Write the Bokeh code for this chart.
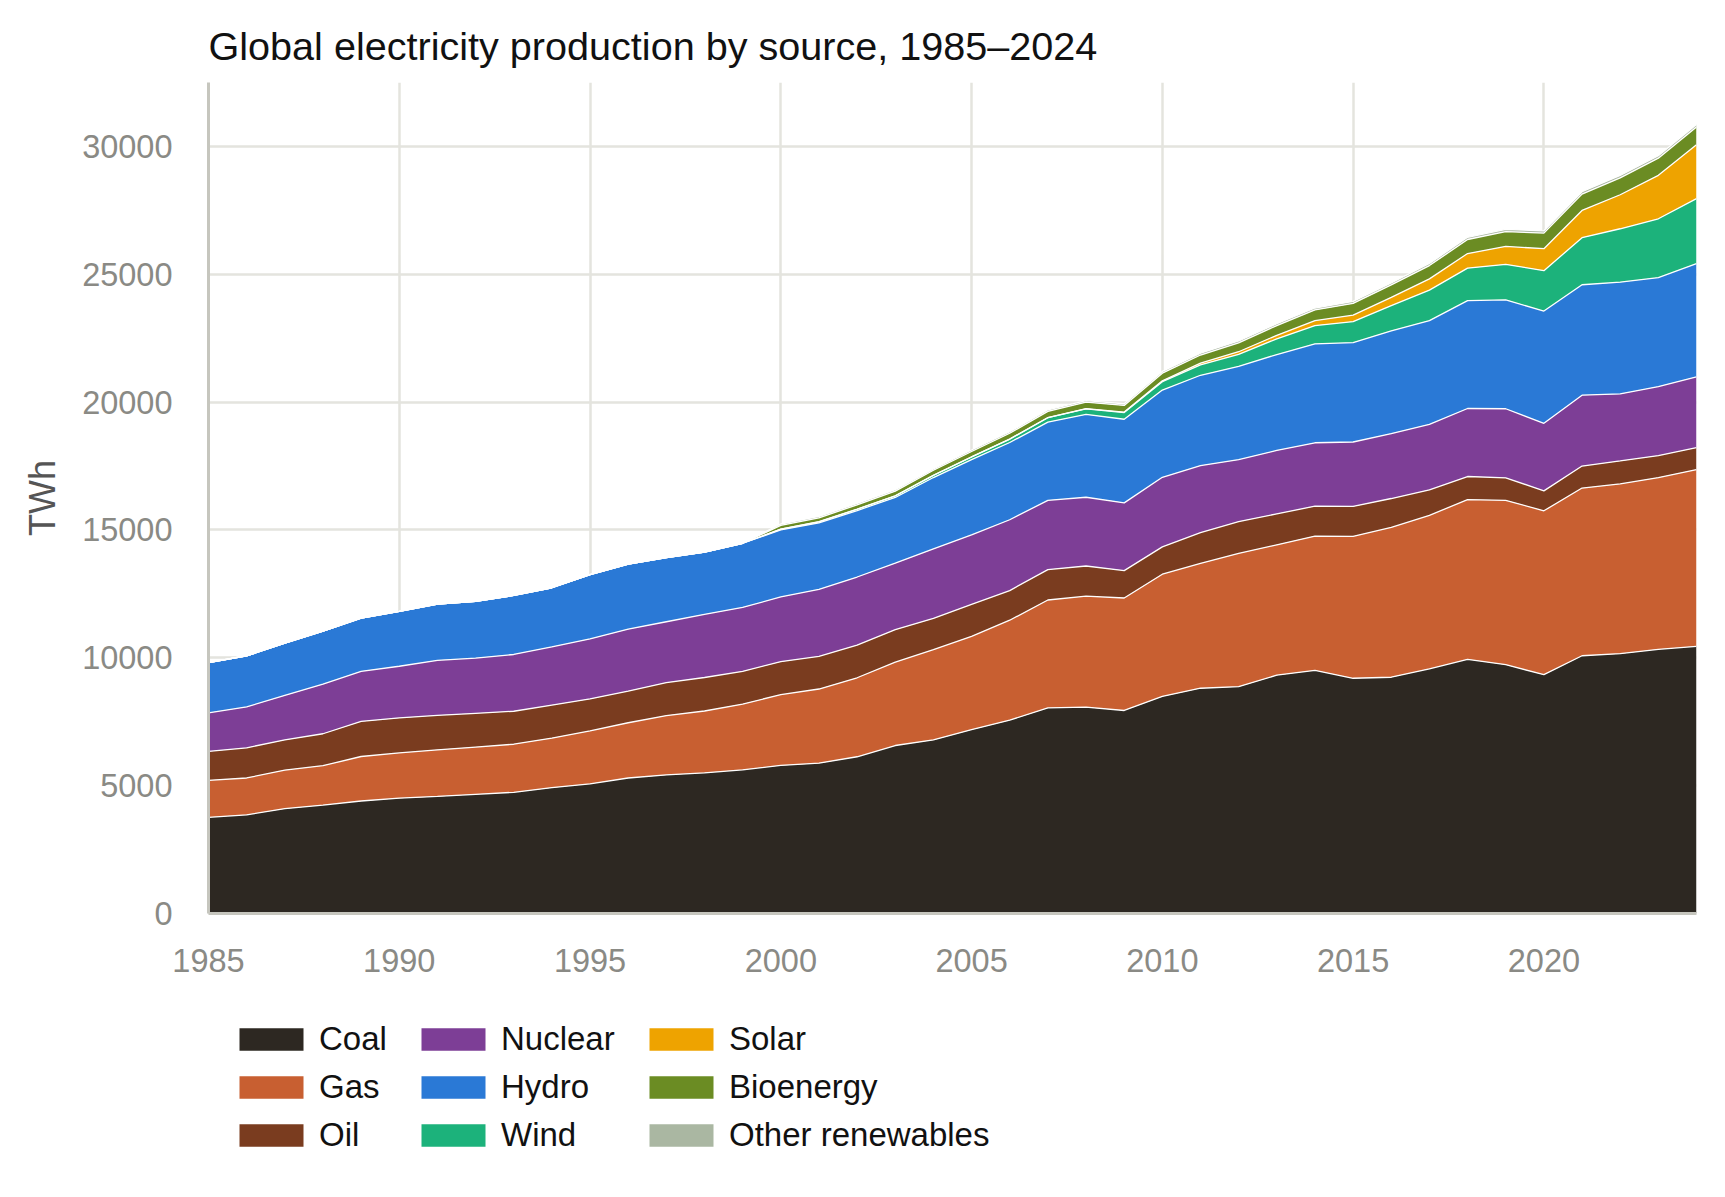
from bokeh.plotting import figure
from bokeh.layouts import column
from bokeh.models import ColumnDataSource, Legend, LegendItem, Range1d, FixedTicker
from bokeh.embed import file_html
from bokeh.resources import INLINE
import numpy as np

years = list(range(1985, 2025))

coal = [3760, 3860, 4100, 4240, 4400, 4510, 4580, 4660, 4740, 4920,
        5070, 5300, 5420, 5500, 5620, 5790, 5880, 6130, 6570, 6790,
        7190, 7560, 8040, 8070, 7940, 8490, 8810, 8870, 9320, 9510,
        9200, 9240, 9570, 9940, 9730, 9340, 10080, 10160, 10330, 10450]
gas = [1450, 1440, 1510, 1540, 1740, 1770, 1820, 1850, 1880, 1940,
       2070, 2160, 2320, 2420, 2570, 2770, 2900, 3090, 3260, 3530,
       3650, 3910, 4220, 4340, 4400, 4780, 4880, 5210, 5100, 5250,
       5550, 5860, 6000, 6250, 6430, 6410, 6560, 6640, 6720, 6910]
oil = [1130, 1180, 1180, 1250, 1370, 1370, 1350, 1320, 1290, 1290,
       1250, 1240, 1290, 1310, 1280, 1290, 1280, 1280, 1270, 1220,
       1250, 1160, 1190, 1180, 1070, 1070, 1210, 1250, 1210, 1170,
       1170, 1130, 1000, 900, 880, 780, 860, 900, 860, 860]
nuclear = [1510, 1600, 1740, 1940, 1960, 2020, 2150, 2160, 2220, 2280,
           2350, 2420, 2380, 2470, 2500, 2530, 2620, 2660, 2600, 2720,
           2720, 2770, 2710, 2690, 2650, 2720, 2620, 2420, 2480, 2480,
           2520, 2540, 2560, 2660, 2700, 2640, 2770, 2620, 2700, 2770]
hydro = [1960, 2000, 2040, 2070, 2080, 2150, 2200, 2220, 2310, 2310,
         2510, 2540, 2510, 2430, 2510, 2620, 2600, 2600, 2570, 2790,
         2940, 3020, 3060, 3240, 3270, 3410, 3530, 3650, 3750, 3870,
         3890, 4020, 4060, 4220, 4260, 4390, 4320, 4370, 4260, 4430]
wind = [0, 0, 0, 0, 0, 0, 0, 0, 0, 0,
        0, 0, 0, 0, 0, 30, 40, 50, 65, 85,
        105, 130, 170, 215, 260, 330, 410, 470, 615, 715,
        820, 985, 1190, 1270, 1390, 1580, 1840, 2090, 2300, 2540]
solar = [0, 0, 0, 0, 0, 0, 0, 0, 0, 0,
         0, 0, 0, 0, 0, 1, 2, 2, 3, 4,
         4, 6, 8, 12, 20, 32, 62, 100, 138, 190,
         250, 320, 440, 570, 700, 860, 1065, 1330, 1700, 2110]
bioenergy = [0, 0, 0, 0, 0, 0, 0, 0, 0, 0,
             0, 0, 0, 0, 0, 150, 155, 170, 180, 195,
             210, 225, 240, 250, 260, 300, 320, 350, 380, 420,
             460, 490, 520, 550, 580, 610, 640, 660, 670, 690]
other = [0, 0, 0, 0, 0, 0, 0, 0, 0, 0,
         0, 0, 0, 0, 0, 52, 53, 54, 56, 57,
         58, 60, 62, 64, 66, 68, 70, 71, 73, 75,
         77, 80, 82, 85, 87, 89, 92, 94, 96, 98]

labels = ["Coal", "Gas", "Oil", "Nuclear", "Hydro", "Wind", "Solar", "Bioenergy", "Other renewables"]
keys = ["coal", "gas", "oil", "nuclear", "hydro", "wind", "solar", "bioenergy", "other"]
colors = ["#2d2822", "#c85f31", "#7a3c1f", "#7d3e96", "#2a79d6", "#1cb27b", "#eea300", "#6b8c23", "#aab7a2"]

x_ticks = [1985, 1990, 1995, 2000, 2005, 2010, 2015, 2020]
y_ticks = [0, 5000, 10000, 15000, 20000, 25000, 30000]

data = dict(year=years, coal=coal, gas=gas, oil=oil, nuclear=nuclear, hydro=hydro,
            wind=wind, solar=solar, bioenergy=bioenergy, other=other)
src = ColumnDataSource(data)

FONT = "Liberation Sans"

p = figure(width=1725, height=1000, output_backend="svg", toolbar_location=None,
           x_range=Range1d(1985, 2024), y_range=Range1d(0, 32500),
           min_border_left=208, min_border_right=29, min_border_top=82, min_border_bottom=87,
           title="Global electricity production by source, 1985\u20132024")
p.background_fill_color = "white"
p.border_fill_color = "white"
p.outline_line_color = None

p.title.text_font = FONT
p.title.text_font_size = "39.6px"
p.title.text_font_style = "normal"
p.title.text_color = "#111111"
p.title.align = "left"
p.title.standoff = 30

renderers = p.varea_stack(keys, x="year", color=colors, source=src)

# white separators between layers
stack = np.zeros(len(years))
for k in keys:
    stack = stack + np.array(data[k], dtype=float)
    p.line(years, stack.tolist(), line_color="white", line_width=1.3)

for ax in (p.xaxis, p.yaxis):
    ax.axis_line_color = "#c6c6be"
    ax.axis_line_width = 3
    ax.major_tick_line_color = None
    ax.minor_tick_line_color = None
    ax.major_tick_out = 0
    ax.major_tick_in = 0
    ax.major_label_text_font = FONT
    ax.major_label_text_font_size = "32.5px"
    ax.major_label_text_color = "#8a8a85"

p.xaxis.ticker = FixedTicker(ticks=x_ticks)
p.yaxis.ticker = FixedTicker(ticks=y_ticks)
p.xaxis.major_label_standoff = 35
p.yaxis.major_label_standoff = 36
p.yaxis.axis_label = "TWh"
p.yaxis.axis_label_text_font = FONT
p.yaxis.axis_label_text_font_size = "36px"
p.yaxis.axis_label_text_font_style = "normal"
p.yaxis.axis_label_text_color = "#555555"
p.yaxis.axis_label_standoff = 16

p.xgrid.grid_line_color = "#e4e4de"
p.xgrid.grid_line_width = 2.5
p.ygrid.grid_line_color = "#e4e4de"
p.ygrid.grid_line_width = 2.5

# legend panel below the chart (its frame aligns with the chart frame)
lf = figure(width=1725, height=197, output_backend="svg", toolbar_location=None,
            x_range=Range1d(0, 1), y_range=Range1d(0, 1),
            x_axis_type=None, y_axis_type=None,
            min_border_left=0, min_border_right=0, min_border_top=0, min_border_bottom=0)
lf.outline_line_color = None
lf.xgrid.visible = False
lf.ygrid.visible = False
swatches = [lf.varea(x=[0.0], y1=[0.0], y2=[0.0], color=c) for c in colors]

col_groups = [[0, 1, 2], [3, 4, 5], [6, 7, 8]]
col_x = [23, 205, 433]
for gi, idxs in enumerate(col_groups):
    items = [LegendItem(label=labels[i], renderers=[swatches[i]]) for i in idxs]
    lg = Legend(items=items, location=(col_x[gi], 43), orientation="vertical",
                glyph_width=80, glyph_height=28, label_standoff=8, spacing=10,
                padding=0, margin=0, border_line_color=None, background_fill_alpha=0,
                label_text_font=FONT, label_text_font_size="33px", label_text_color="#111111")
    lf.add_layout(lg, "center")

open("out.html", "w").write(file_html(column(p, lf, spacing=0), INLINE))
